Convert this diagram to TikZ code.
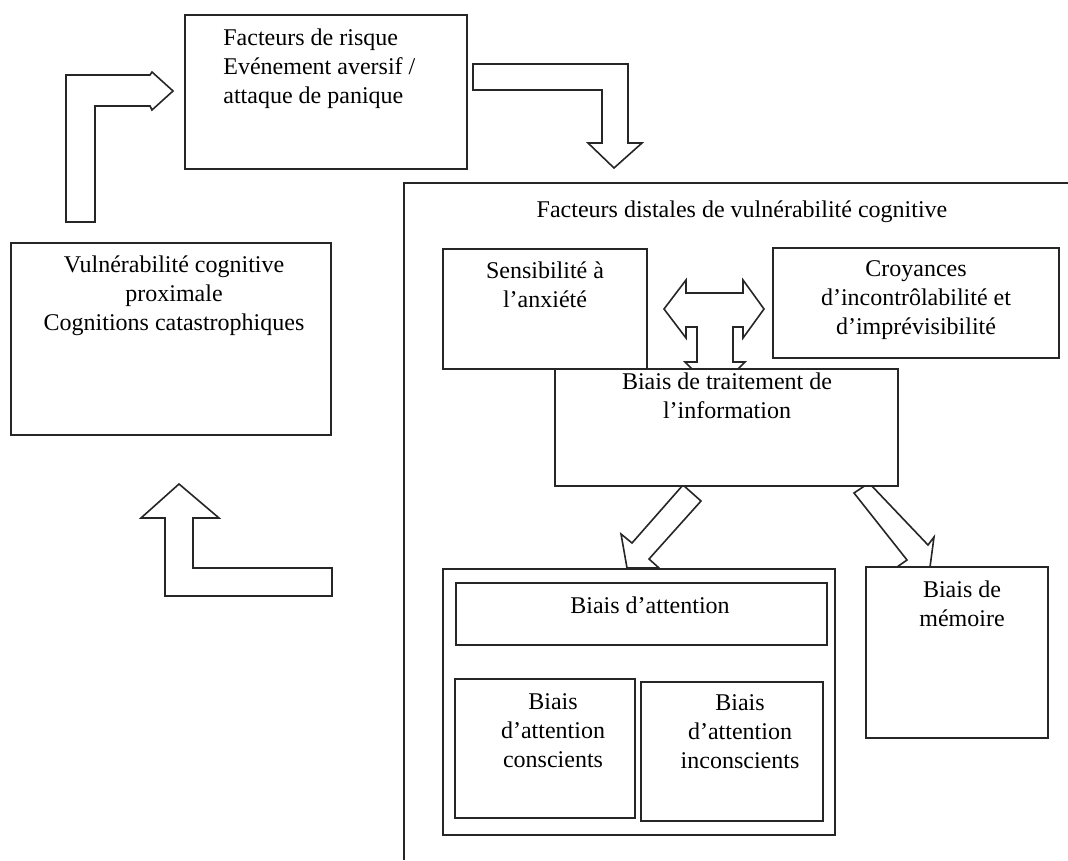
\documentclass[tikz,border=0pt]{standalone}
\usepackage{fontspec}
\setmainfont{Liberation Serif}
\usetikzlibrary{positioning}

\tikzset{
  box/.style={draw=black!85, line width=0.8pt, fill=white},
  frame/.style={draw=black!85, line width=0.8pt},
  bigarrow/.style={draw=black!85, line width=0.8pt, fill=white, line join=miter},
  txt/.style={inner sep=0pt, align=center, font=\fontsize{12}{14.5}\selectfont},
}

\begin{document}
\begin{tikzpicture}[x=0.5pt, y=-0.5pt]
\useasboundingbox (0,0) rectangle (1068,860);

% flèches du cycle
\draw[bigarrow] (66,222) -- (66,75) -- (150,75) -- (152,72) -- (173,91) -- (152,110) -- (150,106) -- (95,106) -- (95,222) -- cycle;
\draw[bigarrow] (473,64) -- (628,64) -- (628,143) -- (642,143) -- (614,168) -- (588,143) -- (602,143) -- (602,90) -- (473,90) -- cycle;
\draw[bigarrow] (179,484) -- (219,518) -- (193,518) -- (193,568) -- (332,568) -- (332,596) -- (165,596) -- (165,518) -- (141,518) -- cycle;

% cadre des facteurs distales
\draw[frame] (404,860) -- (404,183) -- (1068,183);

% flèche à trois têtes
\draw[bigarrow] (664,309) -- (686,280) -- (686,293) -- (743,293) -- (743,280) -- (764,309) -- (743,338) -- (743,327) -- (733,327) -- (733,362) -- (745,362) -- (715,392) -- (685,362) -- (697,362) -- (697,327) -- (686,327) -- (686,338) -- cycle;

% flèches obliques
\draw[bigarrow] (683,485) -- (701,501) -- (649,559) -- (659,568) -- (627,568) -- (621,534) -- (632,543) -- cycle;
\draw[bigarrow] (854,493) -- (869,483) -- (928,545) -- (934,537) -- (930,567) -- (897,567) -- (907,560) -- cycle;

% boîtes
\draw[box] (185,15) rectangle (467,169);
\draw[box] (11,243) rectangle (331,435);
\draw[box] (443,249) rectangle (647,369);
\draw[box] (773,248) rectangle (1059,358);
\draw[box] (555,369) rectangle (898,486);
\draw[box] (443,569) rectangle (835,835);
\draw[box] (456,583) rectangle (827,645);
\draw[box] (455,679) rectangle (635,818);
\draw[box] (641,682) rectangle (823,821);
\draw[box] (866,567) rectangle (1048,738);

% textes
\node[txt, align=left, anchor=north west] (risque) at (223,28) {Facteurs de risque\\Evénement aversif /\\attaque de panique};
\node[txt, anchor=north] (proximale) at (174,255) {Vulnérabilité cognitive\\proximale\\Cognitions catastrophiques};
\node[txt, anchor=north] (distales) at (742,200) {Facteurs distales de vulnérabilité cognitive};
\node[txt, anchor=north] (sensib) at (545,261) {Sensibilité à\\l’anxiété};
\node[txt, anchor=north] (croyances) at (916,260) {Croyances\\d’incontrôlabilité et\\d’imprévisibilité};
\node[txt, anchor=north] (traitement) at (727,372) {Biais de traitement de\\l’information};
\node[txt, anchor=north] (attention) at (650,596) {Biais d’attention};
\node[txt, anchor=north] (conscients) at (553,693) {Biais\\d’attention\\conscients};
\node[txt, anchor=north] (inconscients) at (740,694) {Biais\\d’attention\\inconscients};
\node[txt, anchor=north] (memoire) at (962,580) {Biais de\\mémoire};
\end{tikzpicture}
\end{document}
